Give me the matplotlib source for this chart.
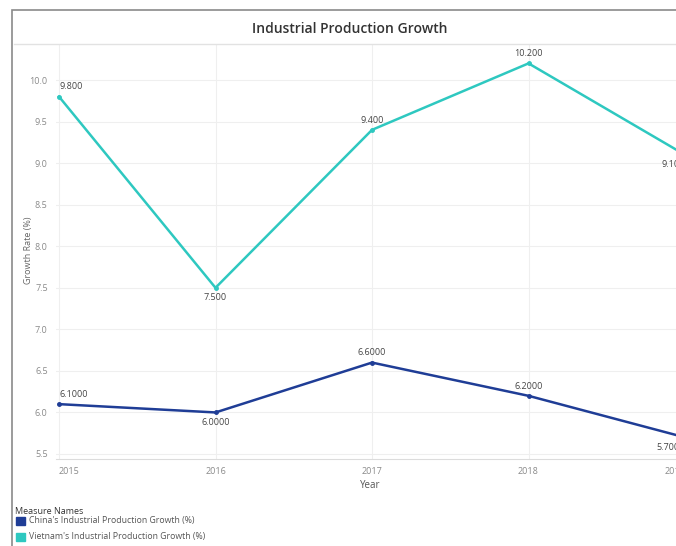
import matplotlib
matplotlib.use("Agg")
import matplotlib.pyplot as plt
from matplotlib.patches import Rectangle
from matplotlib.lines import Line2D

years = [2015, 2016, 2017, 2018, 2019]
china = [6.1, 6.0, 6.6, 6.2, 5.7]
vietnam = [9.8, 7.5, 9.4, 10.2, 9.1]
china_labels = ["6.1000", "6.0000", "6.6000", "6.2000", "5.7000"]
vietnam_labels = ["9.800", "7.500", "9.400", "10.200", "9.100"]
china_above = [True, False, True, True, False]
vietnam_above = [True, False, True, True, False]
yticks = [5.5, 6.0, 6.5, 7.0, 7.5, 8.0, 8.5, 9.0, 9.5, 10.0]

CHINA_COL = "#1f3d96"
VIET_COL = "#2ec8c0"

plt.rcParams["font.family"] = ["Open Sans", "DejaVu Sans"]

W, H = 676, 546


def fx(px):
    return px / W


def fy(py):
    return 1 - py / H


def main():
    fig = plt.figure(figsize=(W / 100, H / 100), dpi=100)

    # outer worksheet border and title separator
    fig.patches.append(Rectangle((fx(12), fy(560)), fx(700), fy(10) - fy(560),
                                 transform=fig.transFigure, fill=False,
                                 edgecolor="#8a8a8a", lw=1.2))
    fig.lines.append(Line2D([fx(14), 1], [fy(44), fy(44)], transform=fig.transFigure,
                            color="#e2e2e2", lw=1.0))
    fig.text(fx(350), fy(29), "Industrial Production Growth", ha="center", va="center",
             fontsize=10, fontweight="semibold", color="#333333")

    # axes: 2015 at x=59px, 156.5 px/year; extends past right edge like the reference
    left_px, right_px = 56, 59 + 156.5 * 4.3
    x0 = 2015 - (59 - left_px) / 156.5
    x1 = 2015 + (right_px - 59) / 156.5
    top_px, bot_px = 45, 459
    ax = fig.add_axes([fx(left_px), fy(bot_px), (right_px - left_px) / W, (bot_px - top_px) / H])
    ax.set_xlim(x0, x1)
    ax.set_ylim(5.5 - 5 / 83.1, 10 + 35 / 83.1)

    for s in ["top", "right", "left"]:
        ax.spines[s].set_visible(False)
    ax.spines["bottom"].set_color("#dcdcdc")
    ax.grid(True, color="#efefef", lw=0.8)
    ax.set_axisbelow(True)

    ax.set_xticks(years)
    ax.set_xticklabels([str(y) for y in years])
    ax.set_yticks(yticks)
    ax.set_yticklabels([f"{v:.1f}" for v in yticks])
    ax.tick_params(length=0, labelsize=6.5, labelcolor="#8a8a8a", pad=6)
    xl = ax.get_xticklabels()
    xl[0].set_ha("left")
    xl[-1].set_ha("right")

    ax.plot(years, vietnam, color=VIET_COL, lw=1.8, marker="o", ms=2.5, zorder=3)
    ax.plot(years, china, color=CHINA_COL, lw=1.8, marker="o", ms=2.5, zorder=3)

    for vals, labs, above in [(vietnam, vietnam_labels, vietnam_above),
                              (china, china_labels, china_above)]:
        for i, (x, y, t, a) in enumerate(zip(years, vals, labs, above)):
            ha = "left" if i == 0 else ("right" if i == len(years) - 1 else "center")
            ax.annotate(t, (x, y), xytext=(0, 7 if a else -7), textcoords="offset points",
                        ha=ha, va="center", fontsize=6.5, color="#444444",
                        annotation_clip=False)

    fig.text(fx(28), fy(250), "Growth Rate (%)", rotation=90, ha="center", va="center",
             fontsize=6.5, color="#666666")
    fig.text(fx(370), fy(486), "Year", ha="center", va="center", fontsize=7, color="#555555")

    # legend
    fig.text(fx(15), fy(511), "Measure Names", ha="left", va="center", fontsize=6.5, color="#333333")
    for py, col, name in [(521, CHINA_COL, "China's Industrial Production Growth (%)"),
                          (537, VIET_COL, "Vietnam's Industrial Production Growth (%)")]:
        fig.patches.append(Rectangle((fx(16), fy(py + 4)), fx(9), fy(py - 4) - fy(py + 4),
                                     transform=fig.transFigure, color=col))
        fig.text(fx(29), fy(py), name, ha="left", va="center", fontsize=6.3, color="#555555")

    fig.savefig("out.png", dpi=100)


if __name__ == "__main__":
    main()
